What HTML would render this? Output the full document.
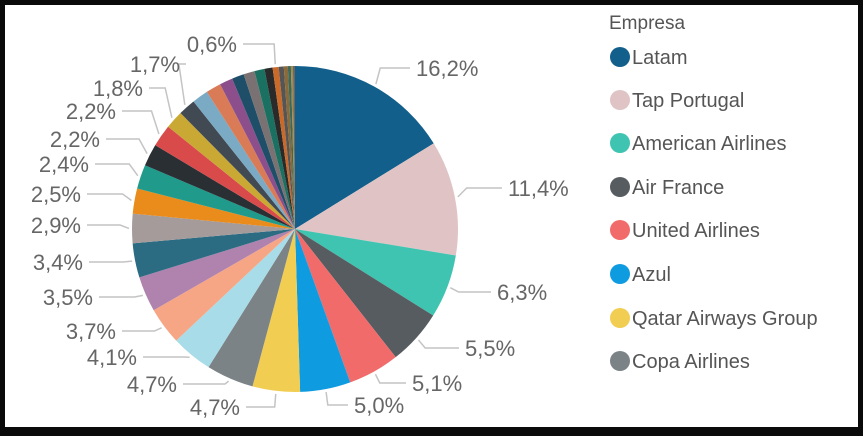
<!DOCTYPE html>
<html><head><meta charset="utf-8"><style>
html,body{margin:0;padding:0;background:#0a0a0a}
#w{position:absolute;left:5px;top:5px;width:853px;height:422px;background:#fff}
svg{position:absolute;left:0;top:0}
</style></head><body>
<div id="w"></div>
<svg id="s" width="863" height="436" xmlns="http://www.w3.org/2000/svg" font-family="Liberation Sans, sans-serif"></svg>
<script>
var vals=[16.2,11.4,6.3,5.5,5.1,5.0,4.7,4.7,4.1,3.7,3.5,3.4,2.9,2.5,2.4,2.2,2.2,1.8,1.7,1.6,1.5,1.3,1.2,1.1,1.0,0.8,0.6,0.5,0.4,0.3,0.2,0.2];
var cols=["#135f8c","#e0c4c5","#3fc4b1","#565c60","#f26b6b","#0f9be0","#f1cd52","#7b8386","#a9dce9","#f6a684","#b082ae","#2b6c82","#a59b9b","#e98c1c","#1f9a8b","#2a2f34","#d94b4b","#c9a934","#414a53","#7aaac4","#d97b57","#8c4f8c","#1f4e69","#7a7272","#1a7061","#2a2a2a","#c96a2a","#555","#8a6a3a","#3a6a5a","#aa8844","#666"];
var cx=295,cy=229,r=163,s=document.getElementById('s'),h='',a=0;
var tot=vals.reduce(function(x,y){return x+y},0);
for(var i=0;i<vals.length;i++){var a2=a+vals[i]/tot*2*Math.PI;
var x1=cx+r*Math.sin(a),y1=cy-r*Math.cos(a),x2=cx+r*Math.sin(a2),y2=cy-r*Math.cos(a2);
h+='<path d="M'+cx+' '+cy+'L'+x1+' '+y1+'A'+r+' '+r+' 0 '+((a2-a)>Math.PI?1:0)+' 1 '+x2+' '+y2+'Z" fill="'+cols[i]+'"/>';a=a2;}
var L=[["16,2%",416,68,"s"],["11,4%",508,188,"s"],["6,3%",497,292,"s"],["5,5%",465,348,"s"],["5,1%",412,383,"s"],["5,0%",354,405,"s"],
["4,7%",240,407,"e"],["4,7%",177,384,"e"],["4,1%",137,357,"e"],["3,7%",116,331,"e"],["3,5%",93,297,"e"],["3,4%",83,262,"e"],["2,9%",81,225,"e"],["2,5%",81,194,"e"],["2,4%",89,164,"e"],["2,2%",100,139,"e"],["2,2%",116,111,"e"],["1,8%",143,88,"e"],["1,7%",180,64,"e"],["0,6%",237,44,"e"]];
var idx=[0,1,2,3,4,5,6,7,8,9,10,11,12,13,14,15,16,17,18,26];
a=0;var mids=[];for(i=0;i<vals.length;i++){var d=vals[i]/tot*2*Math.PI;mids.push(a+d/2);a+=d;}
for(var j=0;j<L.length;j++){var l=L[j],m=mids[idx[j]];
var ex=cx+(r+3)*Math.sin(m),ey=cy-(r+3)*Math.cos(m),ox=cx+(r+12)*Math.sin(m);
var tx=l[3]=="s"?l[1]-6:l[1]+6;
h+='<polyline points="'+ex+','+ey+' '+ox+','+l[2]+' '+tx+','+l[2]+'" fill="none" stroke="#c4c4c4" stroke-width="1.5"/>';
h+='<text x="'+l[1]+'" y="'+(l[2]+8)+'" font-size="22" fill="#666" text-anchor="'+(l[3]=="s"?"start":"end")+'">'+l[0]+'</text>';}
h+='<text x="609" y="29" font-size="19" fill="#555">Empresa</text>';
var lg=["Latam","Tap Portugal","American Airlines","Air France","United Airlines","Azul","Qatar Airways Group","Copa Airlines"];
var ly=[57,100,143,187,230,274,318,361];
for(i=0;i<8;i++){h+='<circle cx="620" cy="'+ly[i]+'" r="10" fill="'+cols[i]+'"/><text x="632" y="'+(ly[i]+7)+'" font-size="20" fill="#555">'+lg[i]+'</text>';}
s.innerHTML=h;
</script>
</body></html>
